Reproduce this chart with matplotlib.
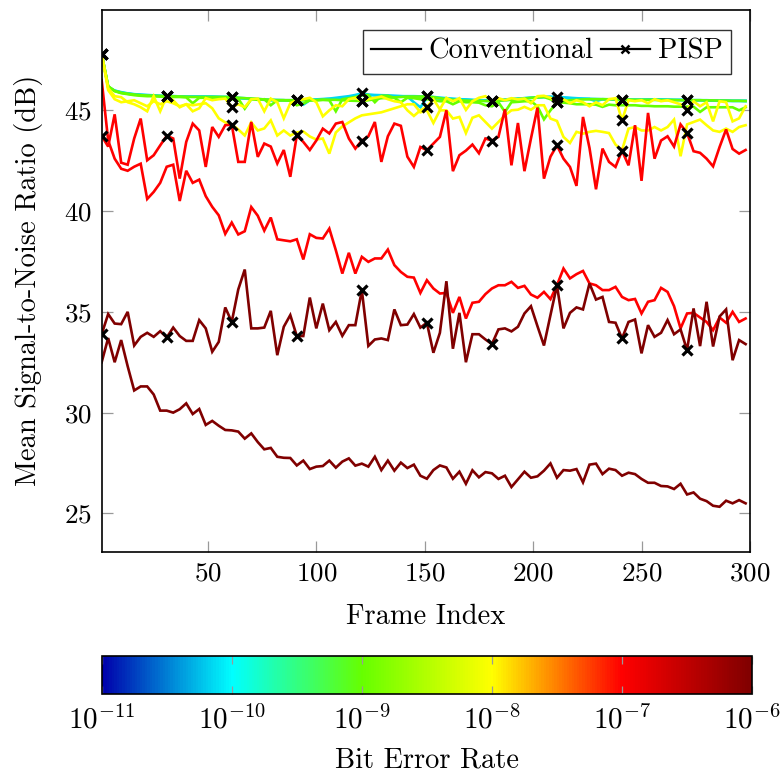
import numpy as np
import matplotlib
matplotlib.use("Agg")
import matplotlib.pyplot as plt
from matplotlib.colors import LinearSegmentedColormap, LogNorm
from matplotlib.lines import Line2D
from matplotlib.ticker import LogFormatterMathtext, NullLocator

plt.rcParams["font.family"] = "serif"
plt.rcParams["font.serif"] = ["cmr10", "DejaVu Serif"]
plt.rcParams["mathtext.fontset"] = "cm"
plt.rcParams["axes.formatter.use_mathtext"] = True

# Frame indices (every third frame)
frames = np.arange(1, 299, 3)
marker_every = 10

# Mean SNR per frame (dB)
snr_cyan_conv = [
    47.80, 46.15, 45.98, 45.90, 45.84, 45.80, 45.78, 45.76, 45.74, 45.72,
    45.70, 45.70, 45.69, 45.68, 45.68, 45.68, 45.68, 45.67, 45.66, 45.64,
    45.62, 45.60, 45.58, 45.56, 45.54, 45.52, 45.50, 45.50, 45.50, 45.48,
    45.48, 45.28, 45.50, 45.52, 45.54, 45.56, 45.58, 45.62, 45.66, 45.70,
    45.74, 45.76, 45.76, 45.75, 45.74, 45.72, 45.70, 45.68, 45.40, 45.15,
    45.60, 45.60, 45.58, 45.58, 45.56, 45.55, 45.54, 45.52, 45.50, 45.50,
    45.50, 45.52, 45.54, 45.56, 45.58, 45.60, 45.62, 45.64, 45.66, 45.66,
    45.64, 45.62, 45.60, 45.58, 45.57, 45.56, 45.45, 45.55, 45.54, 45.52,
    45.50, 45.52, 45.52, 45.52, 45.54, 45.54, 45.54, 45.53, 45.52, 45.52,
    45.50, 45.50, 45.50, 45.48, 45.48, 45.47, 45.47, 45.46, 45.46, 45.45,
]
snr_cyan_pisp = [
    47.80, 46.16, 45.97, 45.88, 45.83, 45.79, 45.76, 45.74, 45.72, 45.71,
    45.70, 45.70, 45.69, 45.68, 45.68, 45.68, 45.68, 45.68, 45.67, 45.67,
    45.66, 45.62, 45.60, 45.58, 45.56, 45.54, 45.52, 45.51, 45.50, 45.50,
    45.50, 45.51, 45.52, 45.54, 45.56, 45.58, 45.62, 45.66, 45.70, 45.76,
    45.84, 45.78, 45.74, 45.72, 45.71, 45.70, 45.70, 45.70, 45.70, 45.69,
    45.69, 45.66, 45.63, 45.60, 45.57, 45.54, 45.52, 45.50, 45.48, 45.47,
    45.46, 45.48, 45.50, 45.54, 45.58, 45.60, 45.62, 45.64, 45.66, 45.67,
    45.67, 45.64, 45.62, 45.60, 45.58, 45.57, 45.56, 45.55, 45.54, 45.53,
    45.53, 45.53, 45.53, 45.53, 45.53, 45.52, 45.52, 45.52, 45.51, 45.51,
    45.50, 45.50, 45.50, 45.50, 45.49, 45.49, 45.49, 45.48, 45.48, 45.48,
]
snr_green_conv = [
    47.80, 46.20, 45.95, 45.85, 45.80, 45.75, 45.72, 45.70, 45.70, 45.68,
    45.68, 45.66, 45.66, 45.64, 45.35, 45.62, 45.62, 45.60, 45.60, 45.60,
    45.55, 45.58, 45.08, 45.55, 45.52, 45.55, 45.25, 45.50, 45.50, 45.48,
    45.25, 45.33, 45.50, 45.50, 45.52, 45.50, 44.95, 45.55, 45.60, 45.66,
    45.74, 45.76, 45.40, 45.72, 45.72, 45.62, 45.40, 45.62, 45.60, 45.55,
    45.55, 45.50, 45.45, 45.45, 45.30, 45.45, 45.40, 45.40, 45.38, 45.25,
    45.20, 45.40, 44.92, 45.40, 45.42, 45.45, 45.45, 45.20, 44.55, 45.00,
    45.40, 45.38, 45.35, 45.30, 45.30, 45.30, 45.28, 45.17, 45.28, 45.25,
    45.25, 45.25, 45.25, 45.22, 45.22, 45.20, 45.20, 45.20, 45.18, 45.18,
    45.18, 45.18, 44.92, 45.15, 45.15, 45.15, 45.15, 45.15, 45.00, 45.15,
]
snr_green_pisp = [
    47.80, 46.18, 45.96, 45.87, 45.82, 45.78, 45.75, 45.73, 45.72, 45.71,
    45.70, 45.69, 45.68, 45.67, 45.66, 45.66, 45.66, 45.66, 45.66, 45.66,
    45.66, 45.62, 45.60, 45.58, 45.56, 45.54, 45.52, 45.50, 45.50, 45.50,
    45.50, 45.50, 45.50, 45.50, 45.52, 45.52, 45.52, 45.50, 45.48, 45.47,
    45.46, 45.50, 45.55, 45.60, 45.62, 45.64, 45.66, 45.68, 45.68, 45.68,
    45.69, 45.65, 45.60, 45.55, 45.52, 45.50, 45.48, 45.47, 45.46, 45.46,
    45.46, 45.48, 45.50, 45.52, 45.55, 45.58, 45.62, 45.64, 45.66, 45.55,
    45.41, 45.45, 45.50, 45.52, 45.54, 45.55, 45.55, 45.55, 45.55, 45.54,
    45.53, 45.53, 45.52, 45.52, 45.52, 45.52, 45.51, 45.51, 45.51, 45.50,
    45.50, 45.50, 45.50, 45.49, 45.49, 45.48, 45.48, 45.47, 45.47, 45.46,
]
snr_yellow_conv = [
    47.80, 46.00, 45.55, 45.40, 45.45, 45.50, 45.35, 45.20, 45.45, 45.30,
    45.45, 45.35, 45.20, 45.30, 45.25, 45.30, 45.35, 45.10, 44.60, 44.40,
    44.30, 44.05, 43.75, 44.40, 44.00, 44.10, 44.50, 43.75, 44.00, 43.75,
    43.90, 43.95, 43.70, 43.55, 43.60, 42.85, 43.90, 44.20, 44.40, 44.60,
    44.75, 44.80, 44.85, 44.90, 45.00, 45.10, 45.20, 45.30, 45.30, 44.90,
    45.00, 44.37, 45.00, 45.00, 44.59, 44.67, 43.87, 44.63, 44.75, 44.42,
    44.09, 44.42, 44.75, 45.00, 45.03, 45.17, 45.03, 45.25, 45.25, 44.59,
    44.47, 43.68, 43.38, 43.93, 43.84, 43.93, 43.98, 43.93, 43.87, 43.30,
    43.02, 44.09, 44.17, 44.00, 44.00, 44.17, 44.00, 44.17, 44.54, 42.72,
    44.30, 44.42, 44.54, 44.26, 44.00, 43.93, 44.09, 43.93, 44.17, 44.26,
]
snr_yellow_pisp = [
    47.80, 46.10, 45.70, 45.65, 45.40, 45.30, 45.15, 44.95, 45.70, 44.95,
    45.70, 45.50, 45.15, 45.30, 44.95, 45.10, 45.60, 45.50, 45.55, 45.58,
    45.16, 45.30, 45.15, 45.55, 45.58, 44.95, 45.58, 45.40, 44.60, 45.35,
    45.50, 45.55, 45.62, 45.40, 44.70, 45.00, 45.25, 45.20, 45.55, 45.62,
    45.46, 45.55, 45.62, 45.68, 45.55, 45.45, 45.40, 45.00, 44.72, 45.00,
    45.17, 45.55, 45.05, 45.62, 45.45, 45.60, 45.02, 45.45, 45.62, 45.70,
    45.46, 45.60, 45.50, 45.60, 45.55, 45.58, 45.35, 45.70, 45.72, 45.62,
    45.41, 45.55, 45.35, 45.50, 45.40, 45.20, 45.40, 45.25, 45.55, 45.60,
    44.50, 45.50, 45.45, 45.50, 45.35, 45.55, 45.45, 45.50, 45.40, 45.30,
    45.03, 45.45, 45.20, 45.40, 44.45, 45.45, 45.40, 44.45, 44.60, 45.20,
]
snr_red_conv = [
    46.50, 43.50, 42.60, 42.10, 42.00, 42.20, 42.35, 40.60, 40.95, 41.40,
    42.20, 42.30, 40.50, 42.00, 41.40, 41.56, 40.74, 40.21, 39.79, 38.87,
    39.43, 38.84, 39.00, 40.20, 39.77, 39.03, 39.68, 38.60, 38.55, 38.50,
    38.60, 37.60, 38.85, 38.67, 38.64, 39.13, 38.06, 36.90, 37.93, 36.90,
    37.73, 37.48, 37.65, 37.65, 38.09, 37.32, 36.98, 36.74, 36.70, 35.94,
    36.57, 36.16, 35.91, 35.94, 34.95, 35.74, 34.67, 35.45, 35.50, 35.88,
    36.16, 36.32, 36.32, 36.49, 36.19, 36.29, 35.86, 35.70, 35.99, 35.63,
    36.32, 37.15, 36.66, 36.87, 37.03, 36.41, 36.32, 36.08, 36.08, 36.24,
    35.74, 35.58, 35.64, 34.92, 35.50, 35.58, 36.19, 35.99, 35.28, 34.18,
    34.92, 34.95, 34.72, 34.50, 34.09, 34.72, 34.46, 35.00, 34.50, 34.67,
]
snr_red_pisp = [
    43.73, 43.20, 44.80, 42.40, 42.30, 43.60, 44.59, 42.52, 42.77, 43.26,
    43.73, 43.60, 41.61, 43.43, 44.34, 44.00, 42.19, 44.17, 43.68, 44.26,
    44.29, 42.44, 42.44, 44.42, 42.69, 43.35, 43.20, 42.36, 43.03, 41.70,
    43.76, 43.43, 43.03, 43.50, 44.09, 43.85, 44.34, 44.42, 43.60, 43.10,
    43.50, 43.71, 44.42, 42.44, 43.71, 44.34, 44.23, 42.70, 42.19, 43.18,
    43.02, 43.35, 43.68, 45.00, 41.98, 42.77, 43.00, 43.30, 42.87, 43.60,
    43.50, 43.68, 45.05, 42.27, 44.37, 41.98, 43.60, 45.13, 41.61, 42.70,
    43.26, 42.60, 42.19, 41.25, 44.67, 43.13, 41.08, 43.10, 42.44, 42.19,
    43.00, 42.27, 44.26, 41.50, 44.87, 42.60, 43.50, 43.71, 43.20, 44.30,
    43.88, 42.97, 42.89, 42.60, 42.22, 43.18, 44.05, 43.08, 42.85, 43.03,
]
snr_darkred_conv = [
    32.50, 33.70, 32.50, 33.60, 32.30, 31.10, 31.30, 31.30, 30.90, 30.10,
    30.10, 30.00, 30.17, 30.46, 29.93, 30.18, 29.39, 29.59, 29.35, 29.14,
    29.12, 29.06, 28.71, 28.97, 28.54, 28.18, 28.25, 27.81, 27.76, 27.75,
    27.38, 27.62, 27.20, 27.32, 27.35, 27.62, 27.27, 27.57, 27.73, 27.37,
    27.47, 27.32, 27.81, 27.15, 27.62, 27.12, 27.52, 27.25, 27.42, 26.87,
    26.72, 27.15, 27.38, 27.28, 26.72, 27.07, 26.47, 27.14, 26.79, 27.05,
    26.99, 26.71, 26.87, 26.31, 26.69, 27.07, 26.77, 26.84, 27.12, 27.48,
    26.77, 27.15, 27.12, 27.20, 26.54, 27.42, 27.47, 26.95, 27.22, 27.15,
    26.87, 27.02, 26.95, 26.71, 26.52, 26.52, 26.36, 26.34, 26.21, 26.47,
    25.94, 26.04, 25.73, 25.61, 25.38, 25.33, 25.63, 25.50, 25.66, 25.50,
]
snr_darkred_pisp = [
    33.89, 34.89, 34.42, 34.39, 35.00, 33.33, 33.76, 33.96, 33.76, 34.04,
    33.73, 34.22, 33.80, 33.56, 33.56, 34.59, 34.18, 33.02, 33.51, 35.22,
    34.50, 36.11, 37.10, 34.18, 34.18, 34.22, 35.05, 32.85, 34.26, 34.84,
    33.80, 33.80, 35.71, 34.18, 35.41, 34.09, 34.50, 33.81, 34.34, 34.34,
    36.08, 33.31, 33.63, 33.68, 33.60, 35.12, 34.34, 34.37, 34.89, 34.22,
    34.46, 32.97, 33.96, 36.52, 33.17, 34.95, 32.50, 33.89, 33.89, 33.63,
    33.40, 34.13, 34.18, 34.03, 34.26, 34.92, 35.28, 34.29, 33.33, 34.84,
    36.32, 34.18, 34.95, 35.22, 35.12, 36.41, 35.61, 35.74, 34.50, 34.46,
    33.68, 34.50, 34.62, 32.94, 34.34, 33.76, 33.96, 34.59, 33.89, 34.13,
    33.10, 35.17, 33.30, 35.50, 33.28, 34.77, 35.12, 32.60, 33.60, 33.40,
]

# Bit error rate of each curve and whether it is a PISP curve
series = [
    (snr_cyan_conv, 7e-11, False),
    (snr_cyan_pisp, 7e-11, True),
    (snr_green_conv, 1e-9, False),
    (snr_green_pisp, 1e-9, True),
    (snr_yellow_conv, 1e-8, False),
    (snr_yellow_pisp, 1e-8, True),
    (snr_red_conv, 1e-7, False),
    (snr_red_pisp, 1e-7, True),
    (snr_darkred_conv, 1e-6, False),
    (snr_darkred_pisp, 1e-6, True),
]

ber_ticks = [1e-11, 1e-10, 1e-9, 1e-8, 1e-7, 1e-6]
x_ticks = [50, 100, 150, 200, 250, 300]
y_ticks = [25, 30, 35, 40, 45]

cmap = LinearSegmentedColormap.from_list(
    "ber_jet",
    [(0.0, (0.0, 0.0, 0.67)),
     (0.2, (0.0, 1.0, 1.0)),
     (0.4, (0.40, 1.0, 0.0)),
     (0.6, (1.0, 1.0, 0.0)),
     (0.8, (1.0, 0.0, 0.0)),
     (1.0, (0.5, 0.0, 0.0))],
)
norm = LogNorm(vmin=1e-11, vmax=1e-6)

FS = 20.5

fig = plt.figure(figsize=(7.82, 7.74), dpi=100)
ax = fig.add_axes([0.130, 0.2872, 0.829, 0.7005])

for values, ber, is_pisp in series:
    ax.plot(frames, values, color=cmap(norm(ber)), lw=1.9,
            solid_joinstyle="miter", zorder=2)

for values, ber, is_pisp in series:
    if is_pisp:
        v = np.asarray(values)
        ax.plot(frames[::marker_every], v[::marker_every], ls="none",
                marker="x", ms=6.8, mew=2.3, color="black", zorder=5)

ax.set_xlim(1, 300)
ax.set_ylim(23.1, 50.0)
ax.set_xticks(x_ticks)
ax.set_yticks(y_ticks)
ax.tick_params(axis="both", which="major", direction="in", length=8,
               width=0.9, color="#999999", labelsize=19.5, top=True,
               right=True, pad=7)
for sp in ax.spines.values():
    sp.set_linewidth(1.2)
    sp.set_color("black")

ax.set_xlabel("Frame Index", fontsize=FS, labelpad=13)
ax.set_ylabel("Mean Signal-to-Noise Ratio (dB)", fontsize=FS, labelpad=15)

handles = [
    Line2D([], [], color="black", lw=1.6),
    Line2D([], [], color="black", lw=1.6, marker="x", ms=6, mew=1.8),
]
leg = ax.legend(handles, ["Conventional", "PISP"], loc="upper right",
                bbox_to_anchor=(0.9707, 0.962), borderaxespad=0, ncol=2,
                fontsize=FS, frameon=True, fancybox=False,
                handlelength=1.75, handletextpad=0.25, columnspacing=0.25,
                borderpad=0.3)
leg.get_frame().set_edgecolor("black")
leg.get_frame().set_linewidth(1.0)

cax = fig.add_axes([0.130, 0.1034, 0.832, 0.0495])
sm = matplotlib.cm.ScalarMappable(norm=norm, cmap=cmap)
cb = fig.colorbar(sm, cax=cax, orientation="horizontal")
cb.set_ticks(ber_ticks)
cb.ax.xaxis.set_major_formatter(LogFormatterMathtext())
cb.ax.xaxis.set_minor_locator(NullLocator())
cb.ax.tick_params(axis="x", which="major", direction="in", length=6,
                  width=0.9, color="#999999", labelsize=21, top=True,
                  pad=8)
cb.outline.set_linewidth(1.2)
cb.set_label("Bit Error Rate", fontsize=FS, labelpad=9)

fig.savefig("out.png", dpi=100)
